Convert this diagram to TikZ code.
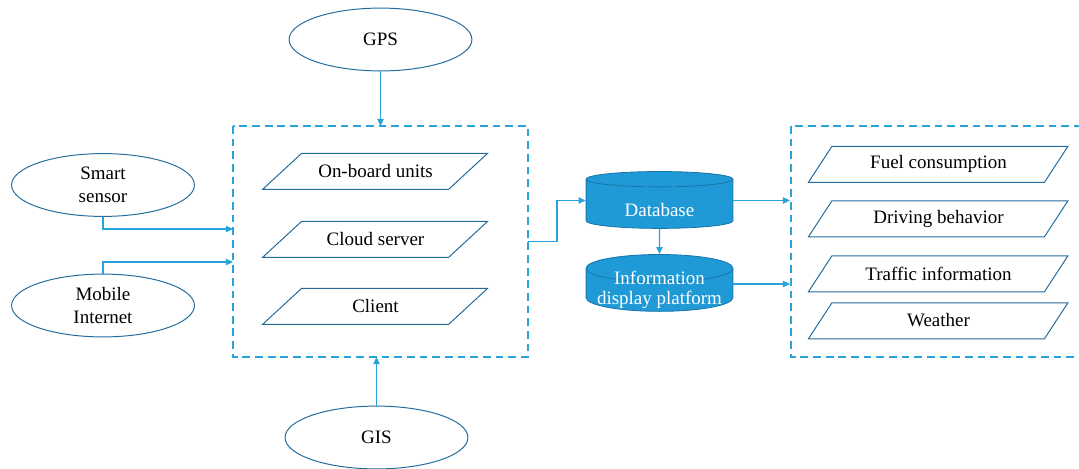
\documentclass[tikz,border=0pt]{standalone}
\usepackage{fontspec}
\setmainfont{Liberation Serif}
\usetikzlibrary{shapes.geometric}
\usetikzlibrary{arrows.meta}

\definecolor{edgeblue}{HTML}{236B9C}
\definecolor{linkblue}{HTML}{2AA3DB}
\definecolor{dbfill}{HTML}{1F9AD6}
\definecolor{dbedge}{HTML}{1776AB}

\begin{document}
\begin{tikzpicture}[x=0.025cm, y=-0.025cm, font=\fontsize{13.5}{15}\selectfont,
  source/.style={ellipse, draw=edgeblue, line width=0.7pt, inner sep=0pt,
    minimum width=4.57cm, minimum height=1.57cm, align=center,
    font=\fontsize{13.5}{16.5}\selectfont},
  unitbox/.style={rectangle, inner sep=0pt, minimum height=0.9cm},
  unitline/.style={draw=edgeblue, line width=0.7pt, line join=miter},
  store/.style={cylinder, shape border rotate=90, aspect=0.22, draw=dbedge,
    line width=0.6pt, cylinder uses custom fill, cylinder body fill=dbfill,
    cylinder end fill=dbfill, text=white, inner sep=0pt, align=center,
    minimum width=3.67cm, minimum height=1.42cm,
    font=\fontsize{13.5}{14}\selectfont},
  groupbox/.style={draw=linkblue, line width=0.8pt, dash pattern=on 5.5pt off 3.5pt},
  link/.style={draw=linkblue, line width=0.8pt, -{Triangle[length=5pt,width=4.5pt]}}]

\useasboundingbox (0,0) rectangle (1079,468);

% Dashed groups
\draw[groupbox] (233,126) rectangle (528,357);
\draw[groupbox] (791,126) rectangle (1085,357);

% Data sources
\node[source] (gps) at (380.5,39.5) {GPS};
\node[source] (ss) at (103,185) {Smart\\sensor};
\node[source] (mi) at (103,305.5) {Mobile\\Internet};
\node[source] (gis) at (376.5,437.5) {GIS};

% Platform units (body 186 wide, slant 39)
\foreach \name/\y/\txt in {obu/171/On-board units, cs/239/Cloud server, cl/306/Client} {
  \node[unitbox, minimum width=4.65cm] (\name) at (375.5,\y) {\txt};
  \draw[unitline] (\name.south west) ++(-19.5,0) -- ++(186,0) -- ++(39,-36)
    -- ++(-186,0) -- cycle;
}

% Storage
\node[store, text height=18pt] (db) at (659.5,204) {Database};
\node[store, inner ysep=-8.5pt] (idp) at (659.5,290) {Information\\display platform};

% Outputs (body 236 wide, slant 23.5)
\foreach \name/\y/\txt in {fuel/164/Fuel consumption, drive/218.5/Driving behavior,
  traffic/273.5/Traffic information, weather/320.5/Weather} {
  \node[unitbox, minimum width=5.9cm] (\name) at (938.5,\y) {\txt};
  \draw[unitline] (\name.south west) ++(-11.75,0) -- ++(236,0) -- ++(23.5,-36)
    -- ++(-236,0) -- cycle;
}

% Connector ends on the dashed groups
\coordinate (topin) at (380.5,126);
\coordinate (botin) at (376.5,357);
\coordinate (ssin) at (233,229);
\coordinate (miin) at (233,262);
\coordinate (cout) at (528,241.5);
\coordinate (dbout) at (790,200.5);
\coordinate (idpout) at (790,284);

% Arrows
\draw[link] (gps.south) -- (topin);
\draw[link] (gis.north) -- (botin);
\draw[link] (ss.south) |- (ssin);
\draw[link] (mi.north) |- (miin);
\draw[link] (cout) -- (557,241.5) |- (db.west |- dbout);
\draw[link] (db.south) -- (idp.north);
\draw[link] (db.east |- dbout) -- (dbout);
\draw[link] (idp.east |- idpout) -- (idpout);

\end{tikzpicture}
\end{document}
